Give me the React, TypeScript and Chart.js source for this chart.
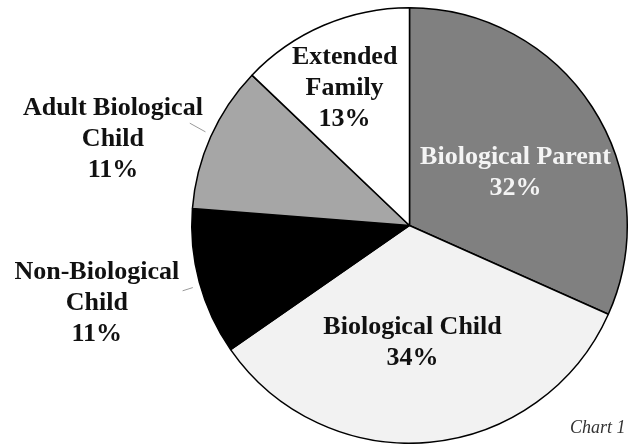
import React, { useEffect, useRef } from "react";
import { Chart, registerables } from "chart.js";

Chart.register(...registerables);

const categories = ["Biological Parent", "Biological Child", "Non-Biological Child", "Adult Biological Child", "Extended Family"];
const labelLines = [["Biological Parent"], ["Biological Child"], ["Non-Biological", "Child"], ["Adult Biological", "Child"], ["Extended", "Family"]];
const percents = [32, 34, 11, 11, 13];
const colors = ["#808080", "#f2f2f2", "#000000", "#a6a6a6", "#ffffff"];
const textColors = ["#f4f4f4", "#111111", "#111111", "#111111", "#111111"];
// label block centre offsets relative to pie centre, in units of radius
const labelOffsets = [[0.487, -0.243], [0.014, 0.539], [-1.436, 0.356], [-1.362, -0.397], [-0.298, -0.631]];
const caption = "Chart 1";

export default function App() {
  const ref = useRef<HTMLCanvasElement>(null);
  useEffect(() => {
    const labelPlugin = {
      id: "labels",
      afterDraw(chart: any) {
        const ctx = chart.ctx;
        const arc = chart.getDatasetMeta(0).data[0];
        const cx = arc.x, cy = arc.y, r = arc.outerRadius;
        ctx.save();
        // leader lines
        ctx.strokeStyle = "#9a9a9a";
        ctx.lineWidth = 1;
        ctx.beginPath();
        ctx.moveTo(cx - r * 1.009, cy - r * 0.47);
        ctx.lineTo(cx - r * 0.937, cy - r * 0.43);
        ctx.moveTo(cx - r * 1.042, cy + r * 0.30);
        ctx.lineTo(cx - r * 0.995, cy + r * 0.285);
        ctx.stroke();
        ctx.font = "bold 26px 'Liberation Serif', 'Times New Roman', serif";
        ctx.textAlign = "center";
        ctx.textBaseline = "middle";
        const lh = 31;
        categories.forEach((_, i) => {
          const lines = [...labelLines[i], percents[i] + "%"];
          const x = cx + labelOffsets[i][0] * r;
          const y0 = cy + labelOffsets[i][1] * r - ((lines.length - 1) * lh) / 2;
          ctx.fillStyle = textColors[i];
          lines.forEach((t, j) => ctx.fillText(t, x, y0 + j * lh));
        });
        ctx.font = "italic 18px 'Liberation Serif', 'Times New Roman', serif";
        ctx.fillStyle = "#333333";
        ctx.textAlign = "left";
        ctx.textBaseline = "alphabetic";
        ctx.fillText(caption, 570, 433);
        ctx.restore();
      },
    };
    const chart = new Chart(ref.current!, {
      type: "pie",
      data: {
        labels: categories,
        datasets: [{ data: percents, backgroundColor: colors, borderColor: "#000000", borderWidth: 1.5 }],
      },
      options: {
        responsive: false,
        animation: false,
        layout: { padding: { left: 191, right: 3, top: 7, bottom: 0 } },
        plugins: { legend: { display: false }, tooltip: { enabled: false } },
      },
      plugins: [labelPlugin],
    });
    return () => chart.destroy();
  }, []);
  return (
    <div style={{ position: "fixed", left: 0, top: 0, width: 631, height: 444, background: "#fff" }}>
      <canvas ref={ref} width={631} height={444} />
    </div>
  );
}
